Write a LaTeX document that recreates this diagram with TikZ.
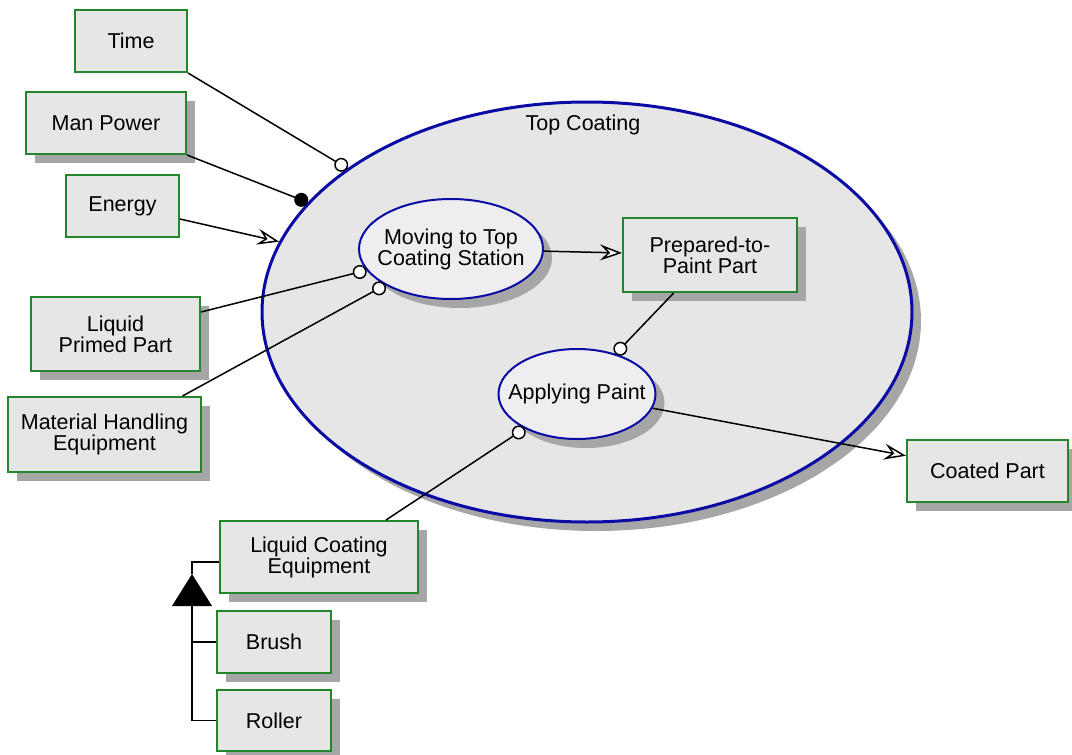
\documentclass[tikz,border=0pt]{standalone}
\usepackage{fontspec}
\setmainfont{Liberation Sans}
\usetikzlibrary{arrows.meta,positioning,shapes.geometric,shadows}
\definecolor{idefGreen}{HTML}{23862A}
\definecolor{idefBlue}{HTML}{0A0AA5}
\definecolor{idefGray}{HTML}{E6E6E6}
\definecolor{idefLight}{HTML}{EEEEF1}
\definecolor{idefShadow}{HTML}{A6A6A6}

\begin{document}
\begin{tikzpicture}[x=1pt,y=1pt,
  font=\fontsize{21.5}{21}\selectfont,
  dropped/.style={drop shadow={shadow xshift=9pt,shadow yshift=-9pt,fill=idefShadow,opacity=1}},
  thing/.style={draw=idefGreen,fill=idefGray,line width=2pt,align=center,inner sep=0pt},
  act/.style={ellipse,draw=idefBlue,fill=idefLight,line width=2pt,inner sep=0pt,dropped},
  link/.style={line width=1.5pt},
  feed/.style={link,-{Stealth[length=22pt,width=16pt,inset=8pt,fill=white]}},
  hook/.style={link,-{Circle[length=14pt,fill=white]}},
  bind/.style={link,-{Circle[length=14pt]}}]
\useasboundingbox (0,0) rectangle (1072,-755);

% the process and its two steps
\node[ellipse,draw=idefBlue,fill=idefGray,line width=3pt,minimum width=650,minimum height=420,dropped] (topc) at (587,-312) {};
\node[inner sep=0pt,below=14pt of topc.north,xshift=-4pt] (topcLabel) {Top Coating};
\node[act,minimum width=184,minimum height=100,
  label={[align=center]center:Moving to Top\\Coating Station}] (moving) at (451,-249) {};
\node[act,minimum width=157,minimum height=90,
  label={center:Applying Paint}] (applying) at (577,-394) {};

% things going in and out
\node[thing,minimum width=112,minimum height=62] (time) at (131,-41) {Time};
\node[thing,minimum width=160,minimum height=62,dropped] (manpower) at (106,-123) {Man Power};
\node[thing,minimum width=113,minimum height=62] (energy) at (122.5,-206) {Energy};
\node[thing,minimum width=169,minimum height=74,dropped] (primed) at (115.5,-334) {Liquid\\Primed Part};
\node[thing,minimum width=193,minimum height=75,dropped] (handling) at (104.5,-434.5) {Material Handling\\Equipment};
\node[thing,minimum width=174,minimum height=74,dropped] (prepared) at (710,-255) {Prepared-to-\\Paint Part};
\node[thing,minimum width=161,minimum height=62,dropped] (coated) at (987.5,-471) {Coated Part};
\node[thing,minimum width=198,minimum height=72,dropped] (coating) at (319,-557) {Liquid Coating\\Equipment};
\node[thing,minimum width=114,minimum height=62,dropped] (brush) at (274,-642) {Brush};
\node[thing,minimum width=114,minimum height=61,dropped] (roller) at (274,-720.5) {Roller};

% connectors
\draw[hook] (time.south east) -- (topc);
\draw[bind] (manpower.south east) -- (topc);
\draw[feed] ([yshift=-13pt]energy.east) -- (topc);
\draw[hook] ([yshift=22pt]primed.east) -- (moving);
\draw[hook] ([xshift=78pt]handling.north) -- (moving);
\draw[feed] (moving) -- (prepared);
\draw[hook] (prepared) -- (applying);
\draw[hook] ([xshift=67pt]coating.north) -- (applying);
\draw[feed] (applying) -- (coated);

% kinds of coating equipment
\coordinate (gen) at (192,-574);
\coordinate (genBase) at (192,-606);
\fill (gen) -- ++(-20,-32) -- ++(40,0) -- cycle;
\draw[link] ([yshift=-5pt]coating.west) -| (gen);
\draw[link] (genBase) |- (roller.west);
\draw[link] (brush.west) -- (brush.west -| genBase);
\end{tikzpicture}
\end{document}
